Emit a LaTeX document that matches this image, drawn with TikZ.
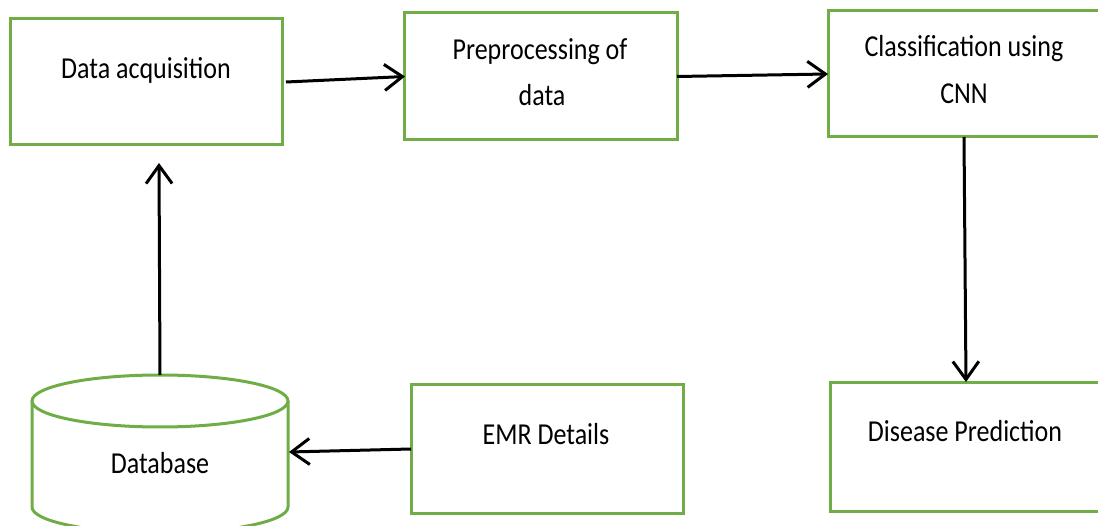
\documentclass[tikz,border=0pt]{standalone}
\usepackage{fontspec}
\setmainfont{Carlito}
\usetikzlibrary{arrows.meta,calc}
\definecolor{grn}{HTML}{70AD47}
\newcommand{\tx}[1]{\scalebox{1}[1.17]{#1}}
\begin{document}
\begin{tikzpicture}[x=1pt,y=-1pt,
  box/.style={draw=grn, line width=3pt, anchor=north west, inner sep=0pt, outer sep=0pt},
  lbl/.style={anchor=base, inner sep=0pt, font=\fontsize{26}{30}\selectfont},
  arr/.style={line width=3pt, -{Straight Barb[length=18pt,width=26pt]}}]
\useasboundingbox (0,0) rectangle (1098,526);
% boxes
\node[box, minimum width=272pt, minimum height=126pt] (b1) at (10,19) {};
\node[box, minimum width=273pt, minimum height=127pt] (b2) at (404,13) {};
\node[box, minimum width=280pt, minimum height=126pt] (b3) at (828,11) {};
\node[box, minimum width=280pt, minimum height=128pt] (b4) at (830,383) {};
\node[box, minimum width=272pt, minimum height=128pt] (b5) at (411,385) {};
% database cylinder
\node[anchor=north west, minimum width=256pt, minimum height=158pt, inner sep=0pt, outer sep=0pt] (db) at (32,375) {};
\draw[grn, line width=3pt] ($(db.north)+(0,26)$) ellipse [x radius=128pt, y radius=26pt];
\draw[grn, line width=3pt] ($(db.north west)+(0,26)$) -- ($(db.north west)+(0,132)$)
  arc[start angle=180, end angle=360, x radius=128pt, y radius=26pt] -- ($(db.north east)+(0,26)$);
% labels
\node[lbl] (t1) at (146,79) {\tx{Data acquisition}};
\node[lbl] (t2a) at (540,60) {\tx{Preprocessing of}};
\node[lbl] (t2b) at (542,106) {\tx{data}};
\node[lbl] (t3a) at (964,57) {\tx{Classification using}};
\node[lbl] (t3b) at (964,104) {\tx{CNN}};
\node[lbl] (t4) at (965,442) {\tx{Disease Prediction}};
\node[lbl] (t5) at (546,445) {\tx{EMR Details}};
\node[lbl] (t6) at (160,474) {\tx{Database}};
% connectors
\coordinate (b1in) at ($(b1.south west)+(149,18)$);
\draw[arr] ($(b1.east)+(4,0)$) -- ($(b2.west)+(1,0)$);
\draw[arr] (b2.east) -- (b3.west);
\draw[arr] ($(b3.south west)+(136,0)$) -- ($(b4.north west)+(136,-1)$);
\draw[arr] ($(db.north)+(0,0)$) -- (b1in);
\draw[arr] (b5.west) -- ($(db.east)+(1,-2)$);
\end{tikzpicture}
\end{document}
